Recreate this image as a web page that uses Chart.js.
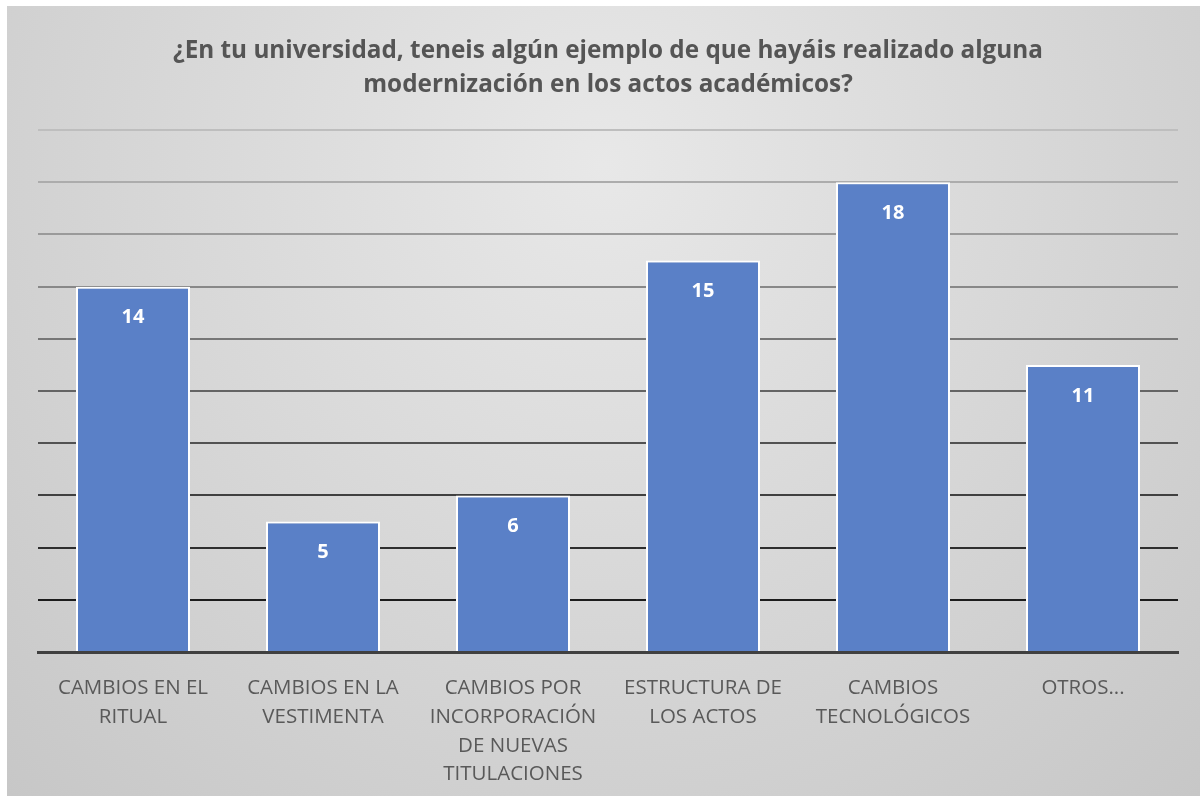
<!DOCTYPE html>
<html>
<head>
<meta charset="utf-8">
<script src="https://cdn.jsdelivr.net/npm/chart.js@4.4.1/dist/chart.umd.min.js"></script>
<style>
  html, body { margin: 0; padding: 0; background: #ffffff; }
  #wrap { position: absolute; left: 7px; top: 6px; width: 1193px; height: 790px; }
</style>
</head>
<body>
<div id="wrap"><canvas id="chart"></canvas></div>
<script>
// Chart data
const titleLines = ['¿En tu universidad, teneis algún ejemplo de que hayáis realizado alguna', 'modernización en los actos académicos?'];
const categories = [
  ['CAMBIOS EN EL', 'RITUAL'],
  ['CAMBIOS EN LA', 'VESTIMENTA'],
  ['CAMBIOS POR', 'INCORPORACIÓN', 'DE NUEVAS', 'TITULACIONES'],
  ['ESTRUCTURA DE', 'LOS ACTOS'],
  ['CAMBIOS', 'TECNOLÓGICOS'],
  ['OTROS...']
];
const counts = [14, 5, 6, 15, 18, 11];

// gray radial background like the office chart style
const backgroundPlugin = {
  id: 'bg',
  beforeDraw(chart) {
    const { ctx, width, height } = chart;
    const g = ctx.createRadialGradient(width * 0.5, height * 0.2, 0, width * 0.5, height * 0.2, width * 0.75);
    g.addColorStop(0, '#e8e8e8');
    g.addColorStop(1, '#c6c6c6');
    ctx.save();
    ctx.fillStyle = g;
    ctx.fillRect(0, 0, width, height);
    ctx.restore();
  }
};

// white value labels inside bar tops
const valueLabels = {
  id: 'valueLabels',
  afterDatasetsDraw(chart) {
    const { ctx } = chart;
    const meta = chart.getDatasetMeta(0);
    ctx.save();
    ctx.fillStyle = '#ffffff';
    ctx.font = 'bold 20px "Open Sans"';
    ctx.textAlign = 'center';
    ctx.textBaseline = 'middle';
    meta.data.forEach((bar, i) => {
      ctx.fillText(String(counts[i]), bar.x, bar.y + 31);
    });
    ctx.restore();
  }
};

function gridColor(v) {
  // lines fade from black near the base to light gray at the top
  if (v === 0) return 'rgba(0,0,0,0)';
  const t = v / 20;
  const c = Math.round(10 + t * 180);
  return `rgb(${c},${c},${c})`;
}

new Chart(document.getElementById('chart'), {
  type: 'bar',
  data: {
    labels: categories,
    datasets: [{
      data: counts,
      backgroundColor: '#5a80c7',
      borderColor: '#ffffff',
      borderWidth: 2,
      barPercentage: 0.6,
      categoryPercentage: 1.0
    }]
  },
  options: {
    responsive: true,
    maintainAspectRatio: false,
    animation: false,
    layout: { padding: { left: 31, right: 22, top: 0, bottom: 0 } },
    plugins: {
      legend: { display: false },
      tooltip: { enabled: false },
      title: {
        display: true,
        text: titleLines,
        color: '#555555',
        font: { family: 'Open Sans', size: 24.3, weight: 'bold', lineHeight: 1.36 },
        padding: { top: 29, bottom: 29 }
      }
    },
    scales: {
      x: {
        grid: { display: false, drawTicks: false },
        border: { display: true, color: '#404040', width: 3 },
        afterFit: (s) => { s.height = 144; },
        ticks: {
          color: '#595959',
          font: { family: 'Open Sans', size: 20.5, lineHeight: 1.4 },
          padding: 22,
          autoSkip: false,
          maxRotation: 0,
          minRotation: 0
        }
      },
      y: {
        min: 0,
        max: 20,
        ticks: { display: false, stepSize: 2 },
        border: { display: false },
        grid: {
          drawTicks: false,
          lineWidth: 2,
          color: (c) => gridColor(c.tick ? c.tick.value : 0)
        }
      }
    }
  },
  plugins: [backgroundPlugin, valueLabels]
});
</script>
</body>
</html>
